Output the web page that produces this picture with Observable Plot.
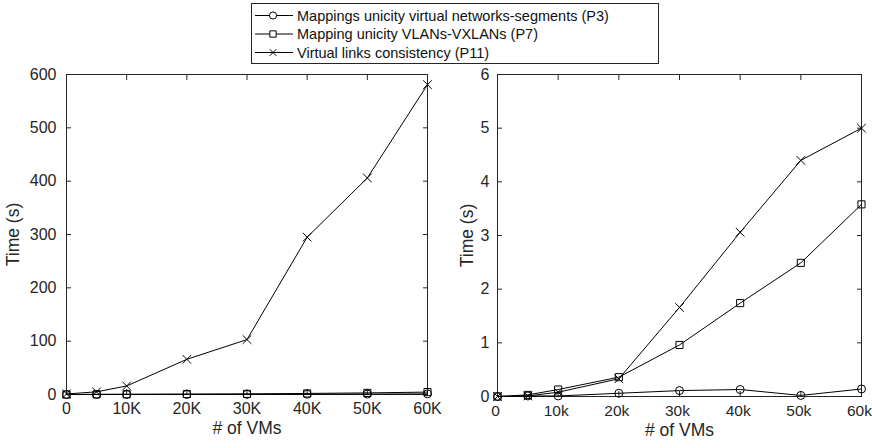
<!DOCTYPE html>
<html>
<head>
<meta charset="utf-8">
<script src="https://cdn.jsdelivr.net/npm/d3@7"></script>
<script src="https://cdn.jsdelivr.net/npm/@observablehq/plot@0.6"></script>
<style>
  body { margin: 0; background: white; }
  #wrap { position: relative; width: 872px; height: 448px; overflow: hidden; font-family: "Liberation Sans", Arial, sans-serif; }
  #wrap svg.plotsvg { position: absolute; top: 0; overflow: visible; }
  #legend { position: absolute; left: 251px; top: 3px; z-index: 5; overflow: visible; }
</style>
</head>
<body>
<div id="wrap"></div>
<script>
// ---- data ----
const vms = [0, 5000, 10000, 20000, 30000, 40000, 50000, 60000];
const seriesNames = [
  "Mappings unicity virtual networks-segments (P3)",
  "Mapping unicity VLANs-VXLANs (P7)",
  "Virtual links consistency (P11)"
];
const seriesSymbols = ["circle", "square", "times"];
// left panel (seconds)
const leftP3 = [0, 0.1, 0.1, 0.2, 0.3, 0.5, 0.8, 1.2];
const leftP7 = [0, 0.3, 0.5, 0.8, 1.2, 2.0, 3.0, 4.5];
const leftP11 = [1, 5, 16, 66, 103, 295, 406, 581];
// right panel (seconds)
const rightP3 = [0, 0.01, 0.01, 0.06, 0.11, 0.13, 0.02, 0.14];
const rightP7 = [0, 0.03, 0.13, 0.36, 0.96, 1.74, 2.49, 3.58];
const rightP11 = [0, 0.01, 0.08, 0.33, 1.66, 3.06, 4.40, 5.00];
// ticks
const xTicks = [0, 10000, 20000, 30000, 40000, 50000, 60000];
const leftXTickLabels = ["0", "10K", "20K", "30K", "40K", "50K", "60K"];
const rightXTickLabels = ["0", "10k", "20k", "30k", "40k", "50k", "60k"];
const leftYTicks = [0, 100, 200, 300, 400, 500, 600];
const rightYTicks = [0, 1, 2, 3, 4, 5, 6];

function rows(p3, p7, p11) {
  const out = [];
  [p3, p7, p11].forEach((arr, s) => arr.forEach((v, i) => out.push({x: vms[i], y: v, s: seriesNames[s], sym: seriesSymbols[s]})));
  return out;
}

const frameColor = "#262626";
const font = "Liberation Sans, Arial, sans-serif";

function panel({data, width, ml, mr, mt, mb, yDomain, yTicks, xLabels, yPad, yLabelDx, xLabelDy, xPad, xFont, xDx}) {
  return Plot.plot({
    width, height: 448,
    marginLeft: ml, marginRight: mr, marginTop: mt, marginBottom: mb,
    style: {fontFamily: font, fontSize: "16px", color: "#262626", background: "transparent", overflow: "visible"},
    x: {domain: [0, 60000]},
    y: {domain: yDomain},
    marks: [
      Plot.axisX({anchor: "bottom", ticks: xTicks, tickSize: 0, tickPadding: xPad - 5, dx: xDx, fontSize: xFont, tickFormat: (d) => xLabels[xTicks.indexOf(d)], label: null}),
      Plot.axisX({anchor: "bottom", ticks: xTicks, tickSize: -5, tickFormat: () => "", label: null, stroke: frameColor}),
      Plot.axisX({anchor: "top", ticks: xTicks, tickSize: -5, tickFormat: () => "", label: null, stroke: frameColor}),
      Plot.axisY({anchor: "left", ticks: yTicks, tickSize: -5, tickPadding: yPad, fontSize: 16, tickFormat: (d) => String(d), label: null, stroke: frameColor}),
      Plot.axisY({anchor: "right", ticks: yTicks, tickSize: -5, tickFormat: () => "", label: null, stroke: frameColor}),
      Plot.frame({stroke: frameColor, strokeWidth: 1}),
      Plot.line(data, {x: "x", y: "y", z: "s", stroke: "black", strokeWidth: 1}),
      Plot.dot(data, {x: "x", y: "y", symbol: "sym", r: 4, stroke: "black", fill: "none", strokeWidth: 1}),
      Plot.text(["Time (s)"], {frameAnchor: "left", dx: yLabelDx, rotate: -90, fontSize: 17.5, fill: "#262626", textAnchor: "middle"}),
      Plot.text(["# of VMs"], {frameAnchor: "bottom", dy: xLabelDy, fontSize: 17.5, fill: "#262626", textAnchor: "middle"})
    ]
  });
}

const wrap = document.getElementById("wrap");

const left = panel({data: rows(leftP3, leftP7, leftP11), width: 440, ml: 66, mr: 13, mt: 74, mb: 54,
  yDomain: [0, 600], yTicks: leftYTicks, xLabels: leftXTickLabels, yPad: 15, yLabelDx: -53, xLabelDy: 39, xPad: 13, xFont: 16, xDx: 0});
left.classList.add("plotsvg");
left.style.left = "0px";
wrap.appendChild(left);

const right = panel({data: rows(rightP3, rightP7, rightP11), width: 432, ml: 57, mr: 11, mt: 74, mb: 52,
  yDomain: [0, 6], yTicks: rightYTicks, xLabels: rightXTickLabels, yPad: 13, yLabelDx: -30, xLabelDy: 39, xPad: 13, xFont: 15.5, xDx: -2});
right.classList.add("plotsvg");
right.style.left = "440px";
wrap.appendChild(right);

// legend (hand-built SVG box)
const ns = "http://www.w3.org/2000/svg";
const lg = document.createElementNS(ns, "svg");
lg.setAttribute("id", "legend");
lg.setAttribute("width", 409);
lg.setAttribute("height", 62);
const box = document.createElementNS(ns, "rect");
box.setAttribute("x", 0.5); box.setAttribute("y", 0.5);
box.setAttribute("width", 407); box.setAttribute("height", 60);
box.setAttribute("fill", "white"); box.setAttribute("stroke", frameColor);
lg.appendChild(box);
seriesNames.forEach((name, i) => {
  const cy = 12.5 + i * 18.5;
  const ln = document.createElementNS(ns, "line");
  ln.setAttribute("x1", 4); ln.setAttribute("x2", 42); ln.setAttribute("y1", cy); ln.setAttribute("y2", cy);
  ln.setAttribute("stroke", "black"); ln.setAttribute("stroke-width", 1);
  lg.appendChild(ln);
  const p = document.createElementNS(ns, "path");
  p.setAttribute("d", d3.symbol(i === 0 ? d3.symbolCircle : i === 1 ? d3.symbolSquare : d3.symbolTimes, i === 2 ? 30 : 40)());
  p.setAttribute("transform", `translate(22,${cy})`);
  p.setAttribute("fill", i === 2 ? "none" : "white");
  p.setAttribute("stroke", "black");
  lg.appendChild(p);
  const t = document.createElementNS(ns, "text");
  t.setAttribute("x", 46); t.setAttribute("y", cy);
  t.setAttribute("dy", "0.35em");
  t.setAttribute("font-family", font);
  t.setAttribute("font-size", 14.5);
  t.setAttribute("fill", "#111");
  t.textContent = name;
  lg.appendChild(t);
});
wrap.appendChild(lg);
</script>
</body>
</html>
